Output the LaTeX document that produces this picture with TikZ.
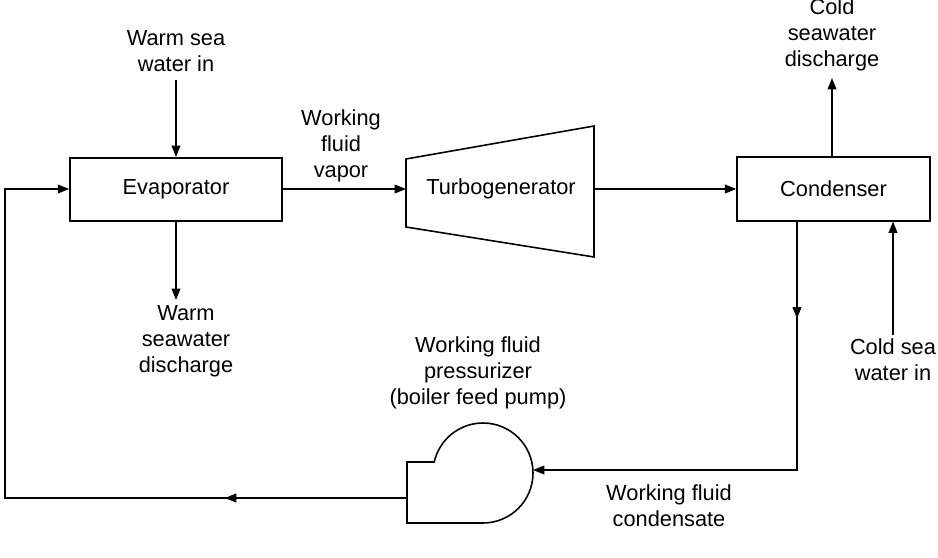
\documentclass[tikz,border=0pt]{standalone}
\usepackage{fontspec}
\setmainfont{Liberation Sans}
\usetikzlibrary{arrows.meta,decorations.markings}

\tikzset{
  pipe/.style={line width=0.9pt},
  flow/.style={pipe, -{Triangle[length=6.5pt,width=5pt]}},
  unit/.style={draw, line width=0.9pt, minimum height=12.7mm},
  txt/.style={align=center, font=\fontsize{12.4}{14.7}\selectfont},
  midarrow/.style={postaction={decorate}, decoration={markings,
      mark=at position #1 with {\arrow{Triangle[length=6.5pt,width=5pt]}}}}
}

\begin{document}
\begin{tikzpicture}[x=0.2mm,y=-0.2mm]
		%%%%% START %%%%%
		\useasboundingbox (0,0) rectangle (938,558);
		
		% main units
		\node[unit, txt, minimum width=42.4mm] (evap) at (176, 189.5) {Evaporator};
		\node[unit, txt, minimum width=38.6mm] (cond) at (833.5, 189) {Condenser};
		
		\draw[pipe] (406, 159) -- (594, 126) -- (594, 257) -- (406, 227) -- cycle;
		\node[txt] (turb) at (501, 189) {Turbogenerator};
		\coordinate (turbIn) at (406, 189);
		\coordinate (turbOut) at (594, 189);
		
		% pump
		\draw[pipe] (434, 462) -- (407, 462) -- (407, 523) -- (483, 523)
			arc (90:-168:50);
		\coordinate (pumpIn) at (533, 470);
		\coordinate (pumpOut) at (407, 498);
		
		% labels
		\node[txt] (warmIn) at (176, 51) {Warm sea\\water in};
		\node[txt] (warmOut) at (186, 341) {Warm\\seawater\\discharge};
		\node[txt] (vapor) at (341, 146) {Working\\fluid\\vapor};
		\node[txt] (coldOut) at (832, 35) {Cold\\seawater\\discharge};
		\node[txt] (coldIn) at (893, 360) {Cold sea\\water in};
		\node[txt] (pumpTxt) at (478, 373) {Working fluid\\pressurizer\\(boiler feed pump)};
		\node[txt] (condTxt) at (669, 506) {Working fluid\\condensate};
		
		\coordinate (warmInEnd) at (176, 80);
		\coordinate (warmOutEnd) at (176, 300);
		\coordinate (coldOutEnd) at (832, 78);
		\coordinate (coldInEnd) at (893, 335);
		\coordinate (condBot) at (797, 221);
		\coordinate (condCorner) at (797, 470);
		\coordinate (retA) at (5, 498);
		\coordinate (retB) at (5, 189);
		
		% seawater streams
		\draw[flow] (warmInEnd) -- (evap.north);
		\draw[flow] (evap.south) -- (warmOutEnd);
		\draw[flow] (coldOutEnd |- cond.north) -- (coldOutEnd);
		\draw[flow] (coldInEnd) -- (coldInEnd |- cond.south);
		
		% working fluid loop
		\draw[flow] (evap.east |- turbIn) -- (turbIn);
		\draw[flow] (turbOut) -- (cond.west |- turbOut);
		\draw[flow, midarrow=0.19] (condBot) -- (condCorner) -- (pumpIn);
		\draw[flow, midarrow=0.235] (pumpOut) -- (retA) -- (retB) -- (evap.west |- retB);
		
		%%%%% END %%%%%
	\end{tikzpicture}
\end{document}
